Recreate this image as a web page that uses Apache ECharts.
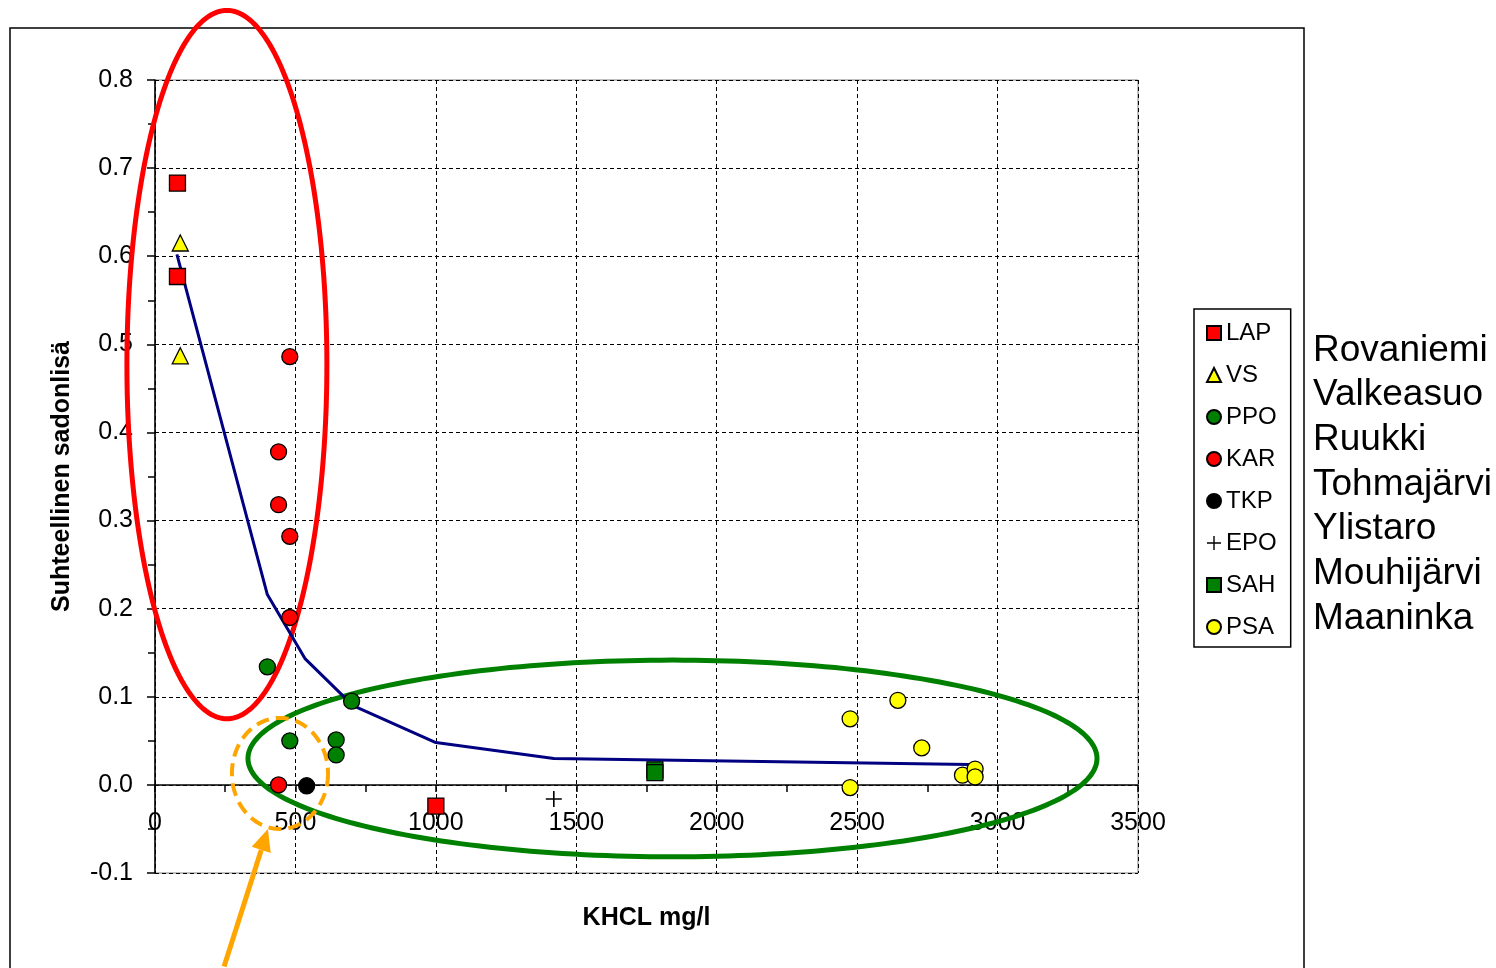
<!DOCTYPE html>
<html>
<head>
<meta charset="utf-8">
<script src="https://cdn.jsdelivr.net/npm/echarts@6/dist/echarts.min.js"></script>
<style>
  html, body { margin: 0; padding: 0; background: #fff; }
  #chart { width: 1496px; height: 968px; }
</style>
</head>
<body>
<div id="chart"></div>
<script>
// Relative yield increase vs. KHCL (mg/l), by trial site
const lapData = [[80, 0.683], [80, 0.577], [1000, -0.024]];
const vsData  = [[90, 0.615], [90, 0.487]];
const ppoData = [[400, 0.134], [480, 0.050], [645, 0.051], [645, 0.034], [700, 0.095]];
const karData = [[480, 0.486], [440, 0.378], [440, 0.318], [480, 0.282], [480, 0.190], [440, 0.0]];
const tkpData = [[540, -0.001]];
const epoData = [[1420, -0.016]];
const sahData = [[1780, 0.017], [1780, 0.014]];
const psaData = [[2475, 0.075], [2645, 0.096], [2730, 0.042], [2475, -0.003], [2875, 0.011], [2920, 0.018], [2920, 0.009]];
const trendData = [[78, 0.602], [400, 0.216], [535, 0.143], [705, 0.090], [1000, 0.048], [1420, 0.030], [2900, 0.023]];

const seriesNames = ['LAP', 'VS', 'PPO', 'KAR', 'TKP', 'EPO', 'SAH', 'PSA'];
const siteNames = ['Rovaniemi', 'Valkeasuo', 'Ruukki', 'Tohmajärvi', 'Ylistaro', 'Mouhijärvi', 'Maaninka'];

const xMin = 0, xMax = 3500, xStep = 500;
const yMin = -0.1, yMax = 0.8, yStep = 0.1;

const FONT = 'Liberation Sans, Arial, sans-serif';
const plusPath = 'path://M4.5,0H5.5V4.5H10V5.5H5.5V10H4.5V5.5H0V4.5H4.5Z';

// Grid box; the x axis is lifted from the bottom edge to the y = 0 line
const gridBox = { left: 155, right: 358, top: 80, bottom: 95 };
const gridHeight = 968 - gridBox.top - gridBox.bottom;
const xAxisLift = gridHeight * (0 - yMin) / (yMax - yMin);

function scatter(name, data, symbol, color, size) {
  return {
    name, type: 'scatter', data, symbol, symbolSize: size, z: 3,
    itemStyle: symbol === plusPath
      ? { color: '#000', opacity: 1 }
      : { color, borderColor: '#000', borderWidth: 1.3, opacity: 1 }
  };
}

const chart = echarts.init(document.getElementById('chart'));

chart.setOption({
  animation: false,
  backgroundColor: '#fff',
  textStyle: { fontFamily: FONT },
  grid: Object.assign({
    containLabel: false, outerBoundsMode: 'none',
    show: true, borderColor: '#808080', borderWidth: 1
  }, gridBox),
  legend: {
    data: seriesNames,
    orient: 'vertical',
    left: 1194, top: 309,
    padding: [12, 14, 8, 12],
    itemGap: 18,
    itemWidth: 14, itemHeight: 14,
    borderColor: '#000', borderWidth: 1.5,
    textStyle: { fontSize: 24, color: '#000', fontFamily: FONT }
  },
  xAxis: {
    type: 'value', min: xMin, max: xMax, interval: xStep,
    offset: -xAxisLift,
    name: 'KHCL mg/l', nameLocation: 'middle', nameGap: 121,
    nameTextStyle: { fontSize: 25, fontWeight: 'bold', color: '#000', fontFamily: FONT },
    axisLine: { onZero: false, lineStyle: { color: '#000', width: 1.5 } },
    axisTick: { show: true, length: 7, lineStyle: { color: '#000', width: 1.5 } },
    minorTick: { show: true, splitNumber: 2, length: 7, lineStyle: { color: '#000', width: 1.5 } },
    axisLabel: { fontSize: 25, color: '#000', margin: 26, fontFamily: FONT, formatter: v => String(v) },
    splitLine: { show: true, lineStyle: { color: '#000', type: [4, 3], width: 1 } }
  },
  yAxis: {
    type: 'value', min: yMin, max: yMax, interval: yStep,
    name: 'Suhteellinen sadonlisä', nameLocation: 'middle', nameGap: 80,
    nameTextStyle: { fontSize: 25, fontWeight: 'bold', color: '#000', fontFamily: FONT },
    axisLine: { show: true, onZero: false, lineStyle: { color: '#000', width: 1.5 } },
    axisTick: { show: true, length: 8, lineStyle: { color: '#000', width: 1.5 } },
    minorTick: { show: true, splitNumber: 2, length: 7, lineStyle: { color: '#000', width: 1.5 } },
    axisLabel: {
      fontSize: 25, color: '#000', margin: 22, fontFamily: FONT,
      formatter: v => (Math.round(v * 10) / 10).toFixed(1)
    },
    splitLine: { show: true, lineStyle: { color: '#000', type: [4, 3], width: 1 } }
  },
  series: [
    {
      name: 'trend', type: 'line', data: trendData, z: 2,
      symbol: 'none', lineStyle: { color: '#000080', width: 3 }
    },
    scatter('LAP', lapData, 'rect', '#FF0000', 16),
    scatter('VS', vsData, 'triangle', '#FFFF00', 16),
    scatter('PPO', ppoData, 'circle', '#008000', 16),
    scatter('KAR', karData, 'circle', '#FF0000', 16),
    scatter('TKP', tkpData, 'circle', '#000000', 16),
    scatter('EPO', epoData, plusPath, '#000000', 16),
    scatter('SAH', sahData, 'rect', '#008000', 16),
    scatter('PSA', psaData, 'circle', '#FFFF00', 16)
  ]
});

// Annotation shapes, placed in data space and converted to pixels
function px(x, y) { return chart.convertToPixel({ gridIndex: 0 }, [x, y]); }

function ellipsePoints(x0, x1, y0, y1) {
  const a = px(x0, y0), b = px(x1, y1);
  const cx = (a[0] + b[0]) / 2, cy = (a[1] + b[1]) / 2;
  const rx = Math.abs(b[0] - a[0]) / 2, ry = Math.abs(b[1] - a[1]) / 2;
  const pts = [];
  for (let i = 0; i < 240; i++) {
    const t = i / 240 * Math.PI * 2;
    pts.push([cx + rx * Math.cos(t), cy + ry * Math.sin(t)]);
  }
  return pts;
}

const arrowTail = px(246, -0.206);
const arrowTip = px(402, -0.050);
const ang = Math.atan2(arrowTip[1] - arrowTail[1], arrowTip[0] - arrowTail[0]);
const headLen = 22, headHalf = 10;
const baseX = arrowTip[0] - headLen * Math.cos(ang), baseY = arrowTip[1] - headLen * Math.sin(ang);
const head = [
  arrowTip,
  [baseX + headHalf * Math.sin(ang), baseY - headHalf * Math.cos(ang)],
  [baseX - headHalf * Math.sin(ang), baseY + headHalf * Math.cos(ang)]
];

chart.setOption({
  graphic: [
    { type: 'rect', shape: { x: 10, y: 28, width: 1294, height: 960 },
      style: { fill: 'none', stroke: '#000', lineWidth: 1.5 }, z: 0 },
    { type: 'polygon', shape: { points: ellipsePoints(-100, 612, 0.879, 0.075) },
      style: { fill: 'none', stroke: '#FF0000', lineWidth: 5 }, z: 1 },
    { type: 'polygon', shape: { points: ellipsePoints(331, 3354, 0.1416, -0.0816) },
      style: { fill: 'none', stroke: '#008000', lineWidth: 5 }, z: 1 },
    { type: 'polygon', shape: { points: ellipsePoints(274, 616, 0.076, -0.050) },
      style: { fill: 'none', stroke: '#FFA500', lineWidth: 4, lineDash: [13, 7] }, z: 1 },
    { type: 'line', shape: { x1: arrowTail[0], y1: arrowTail[1], x2: baseX, y2: baseY },
      style: { stroke: '#FFA500', lineWidth: 5 }, z: 1 },
    { type: 'polygon', shape: { points: head }, style: { fill: '#FFA500' }, z: 1 },
    { type: 'text', x: 1313, y: 328,
      style: { text: siteNames.join('\n'), fontSize: 37, lineHeight: 44.7, fill: '#000',
               fontFamily: FONT, verticalAlign: 'top', align: 'left' } }
  ]
});
</script>
</body>
</html>
